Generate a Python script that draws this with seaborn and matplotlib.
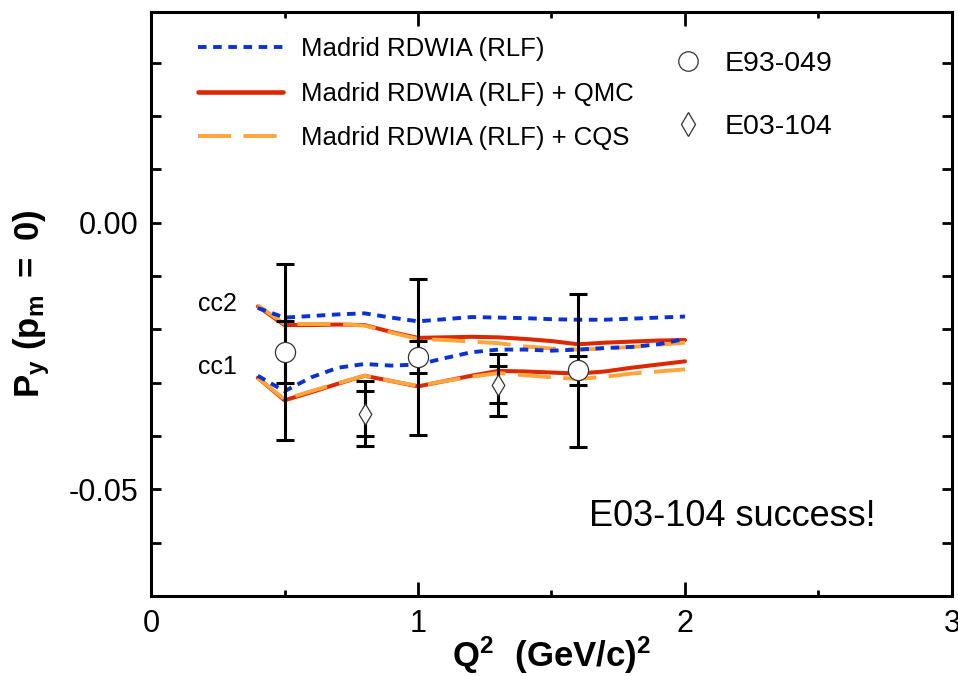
import matplotlib
matplotlib.use("Agg")
import matplotlib.pyplot as plt
from matplotlib.lines import Line2D
from matplotlib.ticker import FixedLocator, FuncFormatter
import seaborn as sns

# ---------------- data ----------------
q2 = [0.4, 0.5, 0.6, 0.7, 0.8, 0.9, 1.0, 1.1, 1.2, 1.3, 1.4, 1.5, 1.6, 1.7, 1.8, 1.9, 2.0]

rlf_cc2 = [-0.0160, -0.0178, -0.0175, -0.0172, -0.0170, -0.0178, -0.0185, -0.0181, -0.0177,
           -0.0178, -0.0179, -0.0181, -0.0182, -0.0182, -0.0180, -0.0178, -0.0176]
qmc_cc2 = [-0.0157, -0.0192, -0.0192, -0.0191, -0.0192, -0.0205, -0.0216, -0.0215, -0.0214,
           -0.0215, -0.0218, -0.0222, -0.0228, -0.0225, -0.0223, -0.0221, -0.0220]
cqs_cc2 = [-0.0155, -0.0190, -0.0190, -0.0190, -0.0193, -0.0206, -0.0218, -0.0220, -0.0223,
           -0.0226, -0.0232, -0.0236, -0.0238, -0.0236, -0.0233, -0.0229, -0.0225]

rlf_cc1 = [-0.0287, -0.0316, -0.0290, -0.0272, -0.0265, -0.0268, -0.0266, -0.0254, -0.0243,
           -0.0238, -0.0238, -0.0240, -0.0238, -0.0235, -0.0233, -0.0228, -0.0218]
qmc_cc1 = [-0.0291, -0.0333, -0.0318, -0.0302, -0.0287, -0.0297, -0.0307, -0.0297, -0.0287,
           -0.0278, -0.0279, -0.0281, -0.0283, -0.0279, -0.0272, -0.0266, -0.0260]
cqs_cc1 = [-0.0291, -0.0331, -0.0316, -0.0301, -0.0287, -0.0297, -0.0306, -0.0297, -0.0289,
           -0.0282, -0.0286, -0.0290, -0.0293, -0.0289, -0.0283, -0.0279, -0.0275]

e93_x = [0.5, 1.0, 1.6]
e93_y = [-0.0243, -0.0252, -0.0277]
e93_stat = [0.0058, 0.0030, 0.0027]
e93_tot = [0.0165, 0.0146, 0.0144]

e03_x = [0.8, 1.3]
e03_y = [-0.0358, -0.0304]
e03_stat = [0.0042, 0.0035]
e03_tot = [0.0061, 0.0058]

legend_lines = ["Madrid RDWIA (RLF)", "Madrid RDWIA (RLF) + QMC", "Madrid RDWIA (RLF) + CQS"]
legend_points = ["E93-049", "E03-104"]

# ---------------- style ----------------
sns.set_theme(style="ticks")
plt.rcParams["font.family"] = ["Liberation Sans", "DejaVu Sans"]
plt.rcParams["text.color"] = "black"
plt.rcParams["axes.labelcolor"] = "black"
plt.rcParams["xtick.color"] = "black"
plt.rcParams["ytick.color"] = "black"
plt.rcParams["mathtext.fontset"] = "custom"
plt.rcParams["mathtext.rm"] = "Liberation Sans:bold"
plt.rcParams["mathtext.it"] = "Liberation Sans:bold"
plt.rcParams["mathtext.bf"] = "Liberation Sans:bold"

BLUE = "#0a32d2"
RED = "#dc2800"
ORANGE = "#ffa53c"

fig = plt.figure(figsize=(9.58, 6.76), dpi=100)
ax = fig.add_axes([151 / 958, 1 - 596 / 676, (952 - 151) / 958, (596 - 12) / 676])

blue_ls = (0, (2.2, 1.7))
orange_ls = (0, (8.5, 3.2))

for ys in (qmc_cc2, qmc_cc1):
    sns.lineplot(x=q2, y=ys, ax=ax, color=RED, lw=2.9, sort=False)
for ys in (cqs_cc2, cqs_cc1):
    sns.lineplot(x=q2, y=ys, ax=ax, color=ORANGE, lw=2.8, linestyle=orange_ls, sort=False)
for ys in (rlf_cc2, rlf_cc1):
    sns.lineplot(x=q2, y=ys, ax=ax, color=BLUE, lw=2.8, linestyle=blue_ls, sort=False)

# error bars (total and statistical)
for xs, ys, tot, stat in ((e93_x, e93_y, e93_tot, e93_stat), (e03_x, e03_y, e03_tot, e03_stat)):
    ax.errorbar(xs, ys, yerr=tot, fmt="none", ecolor="black", elinewidth=2.2,
                capsize=6.5, capthick=2.2, zorder=5)
    ax.errorbar(xs, ys, yerr=stat, fmt="none", ecolor="black", elinewidth=2.2,
                capsize=6.5, capthick=2.2, zorder=5)

sns.scatterplot(x=e93_x, y=e93_y, ax=ax, marker="o", s=210, facecolor="white",
                edgecolor="#333333", linewidth=0.9, zorder=6)
sns.scatterplot(x=e03_x, y=e03_y, ax=ax, marker="d", s=115, facecolor="white",
                edgecolor="#333333", linewidth=0.9, zorder=6)

# ---------------- axes ----------------
ax.set_xlim(0, 3)
ax.set_ylim(-0.07, 0.0395)
ax.xaxis.set_major_locator(FixedLocator([0, 1, 2, 3]))
ax.xaxis.set_minor_locator(FixedLocator([0.5, 1.5, 2.5]))
ax.yaxis.set_major_locator(FixedLocator([-0.05, 0.0]))
ax.yaxis.set_minor_locator(FixedLocator([-0.06, -0.04, -0.03, -0.02, -0.01, 0.01, 0.02, 0.03]))
ax.xaxis.set_major_formatter(FuncFormatter(lambda v, p: f"{v:.0f}"))
ax.yaxis.set_major_formatter(FuncFormatter(lambda v, p: f"{v:.2f}" if abs(v) > 1e-9 else "0.00"))

for s in ax.spines.values():
    s.set_linewidth(2.2)
    s.set_color("black")
ax.tick_params(axis="both", which="both", direction="in", top=True, right=True,
               color="black", width=2.0, labelcolor="black")
ax.tick_params(axis="x", which="major", length=10, labelsize=22, pad=9)
ax.tick_params(axis="x", which="minor", length=4.5)
ax.tick_params(axis="y", which="both", length=7.5, labelsize=22, pad=9)

ax.set_xlabel(r"$\mathrm{Q^2\ \ (GeV/c)^2}$", fontsize=25, labelpad=-3)
ax.set_ylabel(r"$\mathrm{P_y\ (p_m\ =\ 0)}$", fontsize=25, labelpad=12)

# annotations
ax.text(0.176, -0.0152, "cc2", fontsize=18, ha="left", va="center")
ax.text(0.176, -0.0270, "cc1", fontsize=18, ha="left", va="center")
ax.text(1.64, -0.0551, "E03-104 success!", fontsize=26, ha="left", va="center")

# legends
h_lines = [Line2D([], [], color=BLUE, lw=2.8, linestyle=blue_ls),
           Line2D([], [], color=RED, lw=3.3),
           Line2D([], [], color=ORANGE, lw=2.8, linestyle=orange_ls)]
leg1 = ax.legend(h_lines, legend_lines, loc="upper left", bbox_to_anchor=(0.0587, 0.957),
                 frameon=False, fontsize=18.5, handlelength=3.3, handletextpad=0.7,
                 labelspacing=0.8, borderpad=0, borderaxespad=0)
ax.add_artist(leg1)

h_pts = [Line2D([], [], marker="o", ls="none", markersize=14, markerfacecolor="white",
                markeredgecolor="#333333", markeredgewidth=0.9),
         Line2D([], [], marker="d", ls="none", markersize=12, markerfacecolor="white",
                markeredgecolor="#333333", markeredgewidth=0.9)]
ax.legend(h_pts, legend_points, loc="upper left", bbox_to_anchor=(0.656, 0.934),
          frameon=False, fontsize=20.5, handlelength=0.8, handletextpad=0.9,
          labelspacing=1.31, borderpad=0, borderaxespad=0)

fig.savefig("out.png", dpi=100)
